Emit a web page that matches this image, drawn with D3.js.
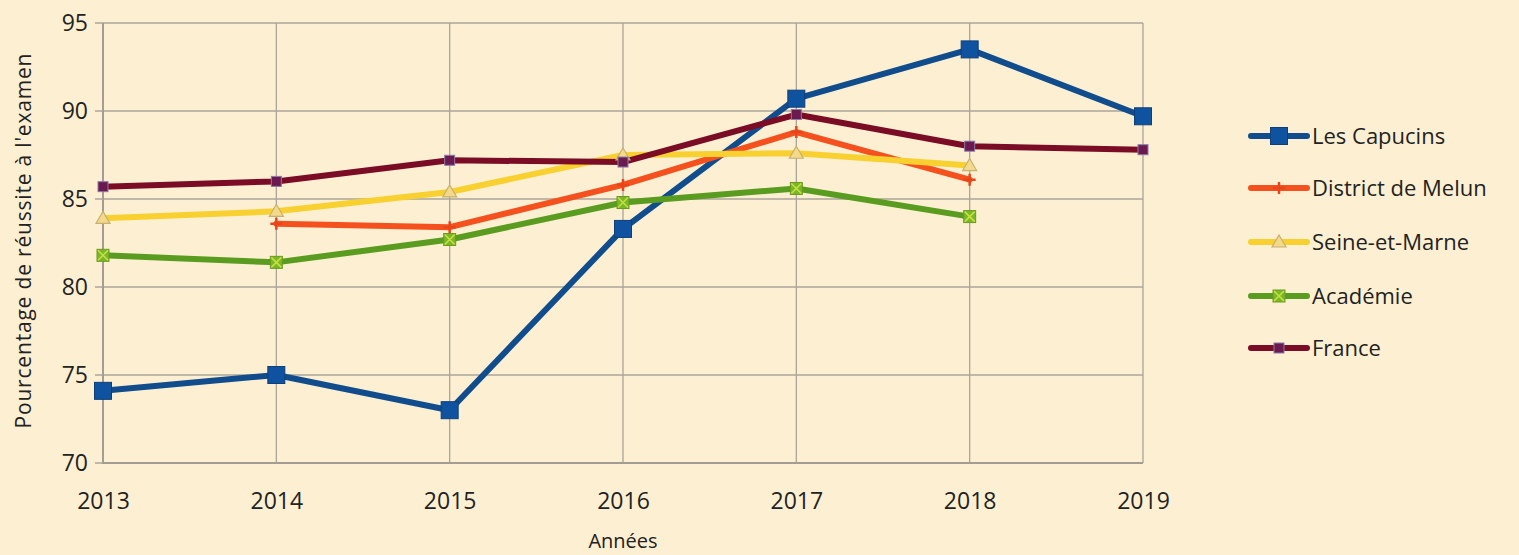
<!DOCTYPE html>
<html>
<head>
<meta charset="utf-8">
<script src="https://cdn.jsdelivr.net/npm/d3@7"></script>
<style>
  html, body { margin: 0; padding: 0; background: #fdf0d2; }
  svg { display: block; font-family: "Open Sans", sans-serif; }
</style>
</head>
<body>
<svg width="1519" height="555"></svg>
<script>
const years = [2013, 2014, 2015, 2016, 2017, 2018, 2019];
const yTicks = [70, 75, 80, 85, 90, 95];

const seriesNames = ["Les Capucins", "District de Melun", "Seine-et-Marne", "Académie", "France"];
const capucins = [74.1, 75.0, 73.0, 83.3, 90.7, 93.5, 89.7];
const melun = [null, 83.6, 83.4, 85.8, 88.8, 86.1, null];
const seineEtMarne = [83.9, 84.3, 85.4, 87.5, 87.6, 86.9, null];
const academie = [81.8, 81.4, 82.7, 84.8, 85.6, 84.0, null];
const france = [85.7, 86.0, 87.2, 87.1, 89.8, 88.0, 87.8];

const svg = d3.select("svg");
const margin = { top: 23, left: 103, right: 376, bottom: 92 };
const width = +svg.attr("width");
const height = +svg.attr("height");

const x = d3.scaleLinear().domain([2013, 2019]).range([margin.left, width - margin.right]);
const y = d3.scaleLinear().domain([70, 95]).range([height - margin.bottom, margin.top]);

const styles = [
  { color: "#114d8c", marker: "bigSquare", fill: "#0f52a0" },
  { color: "#f4511e", marker: "plus", fill: "#e8461a" },
  { color: "#f8d030", marker: "triangle", fill: "#f3d98a" },
  { color: "#5a9c1f", marker: "xSquare", fill: "#7ab82a" },
  { color: "#7a0c26", marker: "smallSquare", fill: "#6a1a4e" }
];
const data = [capucins, melun, seineEtMarne, academie, france];

// grid
const gridColor = "#aaa49a";
svg.append("g")
  .selectAll("line")
  .data(yTicks)
  .join("line")
  .attr("x1", margin.left - 8)
  .attr("x2", x(2019))
  .attr("y1", d => y(d))
  .attr("y2", d => y(d))
  .attr("stroke", gridColor)
  .attr("stroke-width", 1.3);

svg.append("g")
  .selectAll("line")
  .data(years)
  .join("line")
  .attr("x1", d => x(d))
  .attr("x2", d => x(d))
  .attr("y1", y(95))
  .attr("y2", y(70))
  .attr("stroke", gridColor)
  .attr("stroke-width", 1.3);

// axis lines
svg.append("path")
  .attr("d", `M${x(2013)},${y(95)}V${y(70)}H${x(2019)}`)
  .attr("fill", "none")
  .attr("stroke", "#a39d93")
  .attr("stroke-width", 2);

// axes labels
const yAxis = svg.append("g")
  .attr("transform", `translate(${margin.left},0)`)
  .call(d3.axisLeft(y).tickValues(yTicks).tickSize(0).tickPadding(15));
yAxis.select(".domain").remove();
yAxis.selectAll("text").attr("font-size", 23).attr("fill", "#222").attr("font-family", "Open Sans, sans-serif");

const xAxis = svg.append("g")
  .attr("transform", `translate(0,${y(70)})`)
  .call(d3.axisBottom(x).tickValues(years).tickFormat(d3.format("d")).tickSize(0).tickPadding(30));
xAxis.select(".domain").remove();
xAxis.selectAll("text").attr("font-size", 23).attr("fill", "#222").attr("font-family", "Open Sans, sans-serif");

svg.append("text")
  .attr("transform", `translate(24,${(y(95) + y(70)) / 2 - 2}) rotate(-90)`)
  .attr("text-anchor", "middle")
  .attr("dy", "0.35em")
  .attr("font-size", 21)
  .attr("textLength", 375)
  .attr("lengthAdjust", "spacing")
  .attr("fill", "#222")
  .text("Pourcentage de réussite à l'examen");

svg.append("text")
  .attr("x", 623)
  .attr("y", 541)
  .attr("dy", "0.35em")
  .attr("text-anchor", "middle")
  .attr("font-size", 20)
  .attr("fill", "#222")
  .text("Années");

// markers
function drawMarker(g, type, fill, stroke, cx, cy) {
  if (type === "bigSquare") {
    g.append("rect").attr("x", cx - 8.5).attr("y", cy - 8.5).attr("width", 17).attr("height", 17)
      .attr("fill", fill).attr("stroke", "#0d3f7a").attr("stroke-width", 1);
  } else if (type === "smallSquare") {
    g.append("rect").attr("x", cx - 5).attr("y", cy - 5).attr("width", 10).attr("height", 10)
      .attr("fill", fill).attr("stroke", "#8a7aa8").attr("stroke-width", 1);
  } else if (type === "triangle") {
    g.append("path").attr("d", `M${cx},${cy - 7}L${cx + 7},${cy + 5}L${cx - 7},${cy + 5}Z`)
      .attr("fill", fill).attr("stroke", "#c8b070").attr("stroke-width", 1.2);
  } else if (type === "xSquare") {
    g.append("rect").attr("x", cx - 6).attr("y", cy - 6).attr("width", 12).attr("height", 12)
      .attr("fill", fill).attr("stroke", "#6a9a20").attr("stroke-width", 1);
    g.append("path").attr("d", `M${cx - 5},${cy - 5}L${cx + 5},${cy + 5}M${cx + 5},${cy - 5}L${cx - 5},${cy + 5}`)
      .attr("stroke", "#c8e040").attr("stroke-width", 1.5);
  } else if (type === "plus") {
    g.append("path").attr("d", `M${cx - 6},${cy}L${cx + 6},${cy}M${cx},${cy - 6}L${cx},${cy + 6}`)
      .attr("stroke", fill).attr("stroke-width", 2.5);
  }
}

const line = d3.line()
  .defined(d => d.v != null)
  .x(d => x(d.year))
  .y(d => y(d.v));

data.forEach((vals, i) => {
  const pts = years.map((yr, j) => ({ year: yr, v: vals[j] }));
  svg.append("path")
    .datum(pts)
    .attr("d", line)
    .attr("fill", "none")
    .attr("stroke", styles[i].color)
    .attr("stroke-width", 6)
    .attr("stroke-linejoin", "round")
    .attr("stroke-linecap", "round");
});

data.forEach((vals, i) => {
  const g = svg.append("g");
  years.forEach((yr, j) => {
    if (vals[j] != null) drawMarker(g, styles[i].marker, styles[i].fill, styles[i].color, x(yr), y(vals[j]));
  });
});

// legend
const legendY = [136, 188, 242, 296, 348];
seriesNames.forEach((name, i) => {
  const g = svg.append("g");
  g.append("line")
    .attr("x1", 1251).attr("x2", 1307)
    .attr("y1", legendY[i]).attr("y2", legendY[i])
    .attr("stroke", styles[i].color)
    .attr("stroke-width", 6)
    .attr("stroke-linecap", "round");
  drawMarker(g, styles[i].marker, styles[i].fill, styles[i].color, 1279, legendY[i]);
  g.append("text")
    .attr("x", 1312)
    .attr("y", legendY[i])
    .attr("dy", "0.35em")
    .attr("font-size", 22)
    .attr("fill", "#222")
    .text(name);
});
</script>
</body>
</html>
